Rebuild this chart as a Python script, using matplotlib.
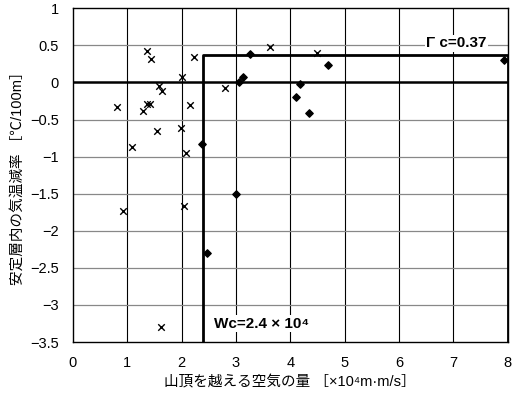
import matplotlib
matplotlib.use("Agg")
import matplotlib.pyplot as plt

plt.rcParams['font.family'] = ['Liberation Sans', 'Noto Sans CJK JP', 'DejaVu Sans']

# x markers
cross_x = [1.36, 1.43, 2.23, 2.01, 1.59, 1.64, 2.79, 0.81, 1.37, 1.42, 1.29, 2.16,
           1.55, 1.99, 1.08, 2.08, 3.63, 4.49, 0.92, 2.04, 1.63]
cross_y = [0.43, 0.32, 0.35, 0.08, -0.05, -0.11, -0.08, -0.33, -0.29, -0.29, -0.39, -0.30,
           -0.66, -0.61, -0.87, -0.95, 0.48, 0.40, -1.73, -1.67, -3.30]

# diamond markers
dia_x = [3.26, 3.13, 3.06, 4.18, 4.10, 4.34, 2.37, 3.01, 4.70, 7.93, 2.46]
dia_y = [0.38, 0.07, 0.00, -0.02, -0.20, -0.41, -0.83, -1.50, 0.24, 0.30, -2.30]

gamma_c = 0.37
w_c = 2.4

fig = plt.figure(figsize=(5.24, 3.95), dpi=100)
ax = fig.add_axes([0.139, 0.134, 0.830, 0.845])

ax.set_xlim(0, 8)
ax.set_ylim(-3.5, 1)
ax.set_xticks(range(0, 9))
ax.set_yticks([1, 0.5, 0, -0.5, -1, -1.5, -2, -2.5, -3, -3.5])
ax.set_yticklabels(['1', '0.5', '0', '\u22120.5', '\u22121', '\u22121.5', '\u22122',
                    '\u22122.5', '\u22123', '\u22123.5'])
ax.tick_params(length=0, labelsize=10.5, pad=10)

for x in range(1, 8):
    ax.axvline(x, color='black', lw=0.8, zorder=1)
for y in [0.5, -0.5, -1, -1.5, -2, -2.5, -3]:
    ax.axhline(y, color='#888888', lw=0.9, zorder=1)
ax.axhline(0, color='black', lw=1.8, zorder=2)

# threshold box
ax.plot([w_c, w_c, 8, 8], [-3.5, gamma_c, gamma_c, -3.5], color='black', lw=2, zorder=3)

ax.scatter(cross_x, cross_y, marker='x', s=22, color='black', linewidths=1, zorder=4)
ax.scatter(dia_x, dia_y, marker='D', s=14, color='black', zorder=4)

ax.text(6.5, 0.53, '\u0393 c=0.37', fontsize=11, fontweight='bold', va='center', ha='left',
        bbox=dict(facecolor='white', edgecolor='none', pad=1), zorder=5)
ax.text(2.6, -3.25, 'Wc=2.4 \u00d7 10\u2074', fontsize=11, fontweight='bold', va='center',
        ha='left', bbox=dict(facecolor='white', edgecolor='none', pad=1), zorder=5)

ax.set_xlabel('山頂を越える空気の量 ［×10\u2074m·m/s］', fontsize=10.5)
ax.set_ylabel('安定層内の気温減率 ［℃/100m］', fontsize=10.5)

for s in ax.spines.values():
    s.set_linewidth(1)

fig.savefig('out.png', dpi=100)
